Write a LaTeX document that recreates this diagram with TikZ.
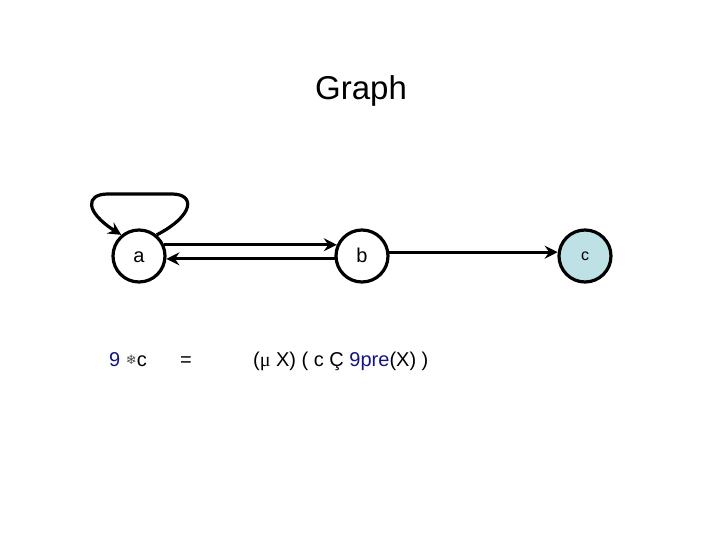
\documentclass[tikz,border=0pt]{standalone}
\usepackage{fontspec}
\setmainfont{Liberation Sans}
\newfontfamily\symfont{DejaVu Sans}
\newfontfamily\serfont{Liberation Serif}
\usetikzlibrary{arrows.meta}
\definecolor{quantblue}{RGB}{20,20,130}
\definecolor{goalfill}{RGB}{189,225,228}
\tikzset{
  state/.style={circle, draw, line width=3.2pt, minimum size=52pt, inner sep=0pt, text height=12pt, text depth=0pt, font=\fontsize{20}{24}\selectfont},
  conn/.style={line width=3.2pt, -{Stealth[length=13pt, width=13pt, inset=4.5pt]}}
}
\begin{document}
\begin{tikzpicture}[x=1pt, y=1pt]
        \useasboundingbox (0, 0) rectangle (720, -540);
        \node[anchor=base, font=\fontsize{33}{38}\selectfont] (title) at (361, -100) {Graph};
        \node[state] (a) at (139, -256) {a};
        \node[state] (b) at (362, -256) {b};
        \node[state, fill=goalfill, text height=8.6pt, font=\fontsize{16}{19}\selectfont] (c) at (585, -256) {c};
        % edges
        \draw[conn] (a.24) -- (b.156);
        \draw[conn] (b.186) -- (a.-6);
        \draw[conn] (b.8) -- (c.172);
        \draw[conn] (a.50) .. controls (195, -215) and (195, -194) .. (172, -194) -- (108, -194) .. controls (85, -194) and (85, -212) .. (a.130);
        % formula
        \node[anchor=base west, inner sep=0pt, font=\fontsize{20}{24}\selectfont] (lhs) at (109, -366) {\textcolor{quantblue}{9} \raisebox{1.5pt}{\symfont\fontsize{13}{15}\selectfont\textcolor{black!70}{❄}}c};
        \node[anchor=base, inner sep=0pt, font=\fontsize{20}{24}\selectfont] (eq) at (186, -366) {=};
        \node[anchor=base west, inner sep=0pt, font=\fontsize{20}{24}\selectfont] (rhs) at (253, -366) {({\serfont μ} X) ( c Ç \textcolor{quantblue}{9pre}(X) )};
\end{tikzpicture}
\end{document}
